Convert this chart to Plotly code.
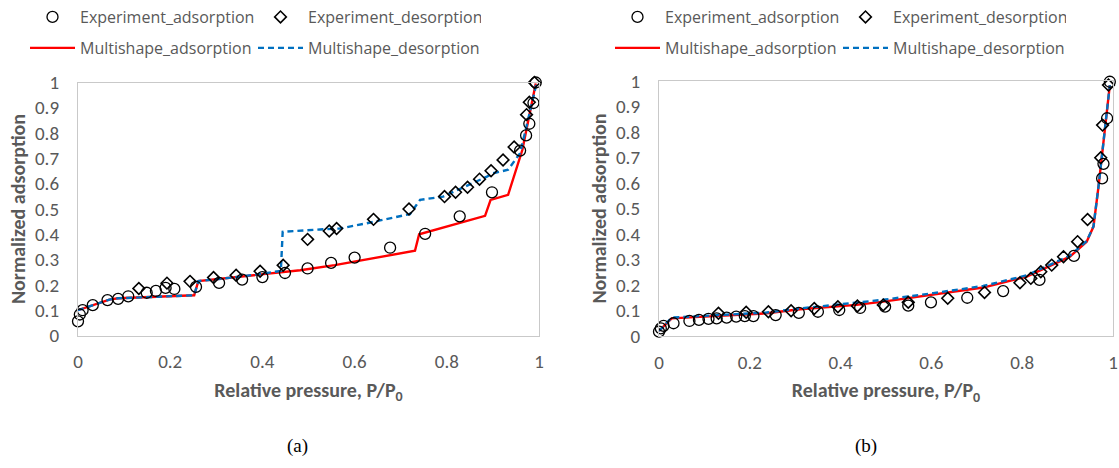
import plotly.graph_objects as go

# ---------- Panel (a) data ----------
a_exp_ads_x = [0.0, 0.004, 0.01, 0.032, 0.064, 0.087, 0.109, 0.149, 0.169, 0.19, 0.209, 0.256, 0.306, 0.356, 0.40,
               0.449, 0.498, 0.549, 0.60, 0.677, 0.753, 0.828, 0.898, 0.959, 0.972, 0.979, 0.988, 0.993]
a_exp_ads_y = [0.056, 0.083, 0.10, 0.12, 0.14, 0.145, 0.155, 0.169, 0.176, 0.188, 0.184, 0.192, 0.208, 0.221, 0.231,
               0.247, 0.265, 0.287, 0.308, 0.347, 0.402, 0.471, 0.566, 0.731, 0.791, 0.837, 0.919, 1.0]
a_exp_des_x = [0.132, 0.193, 0.243, 0.294, 0.343, 0.395, 0.445, 0.498, 0.545, 0.561, 0.641, 0.718, 0.795, 0.819,
               0.845, 0.871, 0.896, 0.922, 0.946, 0.973, 0.979, 0.99]
a_exp_des_y = [0.186, 0.207, 0.214, 0.229, 0.238, 0.254, 0.278, 0.38, 0.413, 0.423, 0.459, 0.5, 0.549, 0.566,
               0.586, 0.618, 0.651, 0.694, 0.745, 0.873, 0.922, 1.0]
a_ms_ads_x = [0.0, 0.068, 0.087, 0.15, 0.252, 0.261, 0.35, 0.43, 0.482, 0.557, 0.662, 0.731, 0.74, 0.80, 0.883,
              0.895, 0.933, 0.964, 0.993]
a_ms_ads_y = [0.10, 0.142, 0.147, 0.152, 0.159, 0.215, 0.232, 0.25, 0.258, 0.278, 0.311, 0.335, 0.40, 0.43, 0.473,
              0.536, 0.556, 0.734, 0.996]
a_ms_des_x = [0.0, 0.068, 0.087, 0.15, 0.252, 0.261, 0.35, 0.44, 0.444, 0.525, 0.568, 0.625, 0.72, 0.742, 0.792,
              0.887, 0.90, 0.933, 0.959, 0.973, 0.995]
a_ms_des_y = [0.10, 0.142, 0.147, 0.152, 0.159, 0.215, 0.232, 0.255, 0.41, 0.419, 0.423, 0.443, 0.48, 0.536, 0.549,
              0.628, 0.641, 0.655, 0.721, 0.827, 1.0]

# ---------- Panel (b) data ----------
b_exp_ads_x = [0.0, 0.004, 0.01, 0.032, 0.067, 0.088, 0.109, 0.127, 0.149, 0.17, 0.189, 0.208, 0.257, 0.308, 0.35,
               0.397, 0.443, 0.498, 0.549, 0.599, 0.679, 0.758, 0.838, 0.914, 0.976, 0.979, 0.987, 0.993]
b_exp_ads_y = [0.017, 0.03, 0.04, 0.05, 0.059, 0.063, 0.067, 0.069, 0.072, 0.076, 0.078, 0.078, 0.082, 0.091, 0.095,
               0.102, 0.11, 0.115, 0.119, 0.132, 0.15, 0.176, 0.22, 0.314, 0.618, 0.675, 0.854, 0.997]
b_exp_des_x = [0.131, 0.192, 0.241, 0.291, 0.342, 0.394, 0.437, 0.494, 0.549, 0.636, 0.717, 0.795, 0.819, 0.841,
               0.865, 0.891, 0.922, 0.944, 0.973, 0.977, 0.99]
b_exp_des_y = [0.089, 0.093, 0.095, 0.099, 0.108, 0.115, 0.118, 0.122, 0.132, 0.148, 0.171, 0.209, 0.226, 0.252,
               0.278, 0.311, 0.37, 0.457, 0.699, 0.827, 0.984]
b_ms_ads_x = [0.0, 0.028, 0.09, 0.237, 0.311, 0.435, 0.494, 0.604, 0.714, 0.81, 0.905, 0.942, 0.957, 0.968, 0.979,
              0.993]
b_ms_ads_y = [0.02, 0.069, 0.075, 0.089, 0.105, 0.122, 0.135, 0.161, 0.19, 0.233, 0.311, 0.37, 0.429, 0.585, 0.755,
              0.984]
b_ms_des_x = [0.0, 0.028, 0.09, 0.237, 0.311, 0.435, 0.494, 0.604, 0.714, 0.81, 0.905, 0.942, 0.957, 0.968, 0.979,
              0.993]
b_ms_des_y = [0.02, 0.072, 0.078, 0.092, 0.108, 0.13, 0.142, 0.168, 0.196, 0.238, 0.315, 0.372, 0.43, 0.585, 0.755,
              0.984]

names = ["Experiment_adsorption", "Experiment_desorption", "Multishape_adsorption", "Multishape_desorption"]
panel_labels = ["(a)", "(b)"]
x_title = "<b>Relative pressure, P/P<sub>0</sub></b>"
y_title = "<b>Normalized adsorption</b>"

W, H = 1119, 468
RED = "#FF0000"
BLUE = "#0070C0"
GRAY = "#595959"
CAL = "Carlito, Calibri, Open Sans, sans-serif"
TICKFONT = dict(family=CAL, size=19, color=GRAY)
TITLEFONT = dict(family=CAL, size=20, color=GRAY)
LEGFONT = dict(family="Open Sans, sans-serif", size=16, color=GRAY)

fig = go.Figure()

panels = [
    dict(xa="x", ya="y", legs=("legend", "legend2"),
         ads=(a_exp_ads_x, a_exp_ads_y), des=(a_exp_des_x, a_exp_des_y),
         msa=(a_ms_ads_x, a_ms_ads_y), msd=(a_ms_des_x, a_ms_des_y)),
    dict(xa="x2", ya="y2", legs=("legend3", "legend4"),
         ads=(b_exp_ads_x, b_exp_ads_y), des=(b_exp_des_x, b_exp_des_y),
         msa=(b_ms_ads_x, b_ms_ads_y), msd=(b_ms_des_x, b_ms_des_y)),
]

for p in panels:
    fig.add_trace(go.Scatter(x=p["msa"][0], y=p["msa"][1], mode="lines", name=names[2],
                             line=dict(color=RED, width=2.4), xaxis=p["xa"], yaxis=p["ya"],
                             legend=p["legs"][1]))
    fig.add_trace(go.Scatter(x=p["msd"][0], y=p["msd"][1], mode="lines", name=names[3],
                             line=dict(color=BLUE, width=2.4, dash="6px,4px"), xaxis=p["xa"], yaxis=p["ya"],
                             legend=p["legs"][1]))
    fig.add_trace(go.Scatter(x=p["ads"][0], y=p["ads"][1], mode="markers", name=names[0],
                             marker=dict(symbol="circle-open", size=11, color="black", line=dict(width=1.3)),
                             xaxis=p["xa"], yaxis=p["ya"], legend=p["legs"][0], cliponaxis=False))
    fig.add_trace(go.Scatter(x=p["des"][0], y=p["des"][1], mode="markers", name=names[1],
                             marker=dict(symbol="diamond-open", size=9, color="black", line=dict(width=1.6)),
                             xaxis=p["xa"], yaxis=p["ya"], legend=p["legs"][0], cliponaxis=False))

xdoms = [[78 / W, 539 / W], [659 / W, 1113 / W]]
ydoms = [[1 - 335.5 / H, 1 - 82.5 / H], [1 - 336 / H, 1 - 81 / H]]

axis_common = dict(showline=True, mirror=True, linecolor="#C9C9C9", linewidth=1.3, showgrid=False,
                   zeroline=False, ticks="", tickfont=TICKFONT, range=[0, 1], automargin=False)

for i, (xd, yd) in enumerate(zip(xdoms, ydoms)):
    sfx = "" if i == 0 else str(i + 1)
    fig.layout["xaxis" + sfx] = dict(axis_common, domain=xd, dtick=0.2, anchor="y" + sfx, ticklabelstandoff=9,
                                     title=dict(text=x_title, standoff=10, font=TITLEFONT))
    fig.layout["yaxis" + sfx] = dict(axis_common, domain=yd, dtick=0.1, anchor="x" + sfx, ticklabelstandoff=14,
                                     title=dict(text=y_title, standoff=3, font=TITLEFONT))

leg_common = dict(orientation="h", xanchor="left", yanchor="top", font=LEGFONT, itemwidth=45,
                  entrywidth=168, bgcolor="rgba(0,0,0,0)", borderwidth=0, tracegroupgap=0)
for name, x0, ytop in [("legend", 25, 0), ("legend2", 25, 31), ("legend3", 610, 0), ("legend4", 610, 31)]:
    fig.layout[name] = dict(leg_common, x=x0 / W, y=1 - ytop / H)

for lab, xpx in zip(panel_labels, [297, 866]):
    fig.add_annotation(text=lab, x=xpx / W, y=1 - 446 / H, xref="paper", yref="paper", showarrow=False,
                       xanchor="center", yanchor="middle",
                       font=dict(family="Liberation Serif, Times New Roman, serif", size=19, color="black"))

fig.update_layout(width=W, height=H, margin=dict(l=0, r=0, t=0, b=0), plot_bgcolor="white",
                  paper_bgcolor="white", showlegend=True)

fig.write_html("out.html", config={"displayModeBar": False},
               post_script="document.body.style.margin='0px';")
